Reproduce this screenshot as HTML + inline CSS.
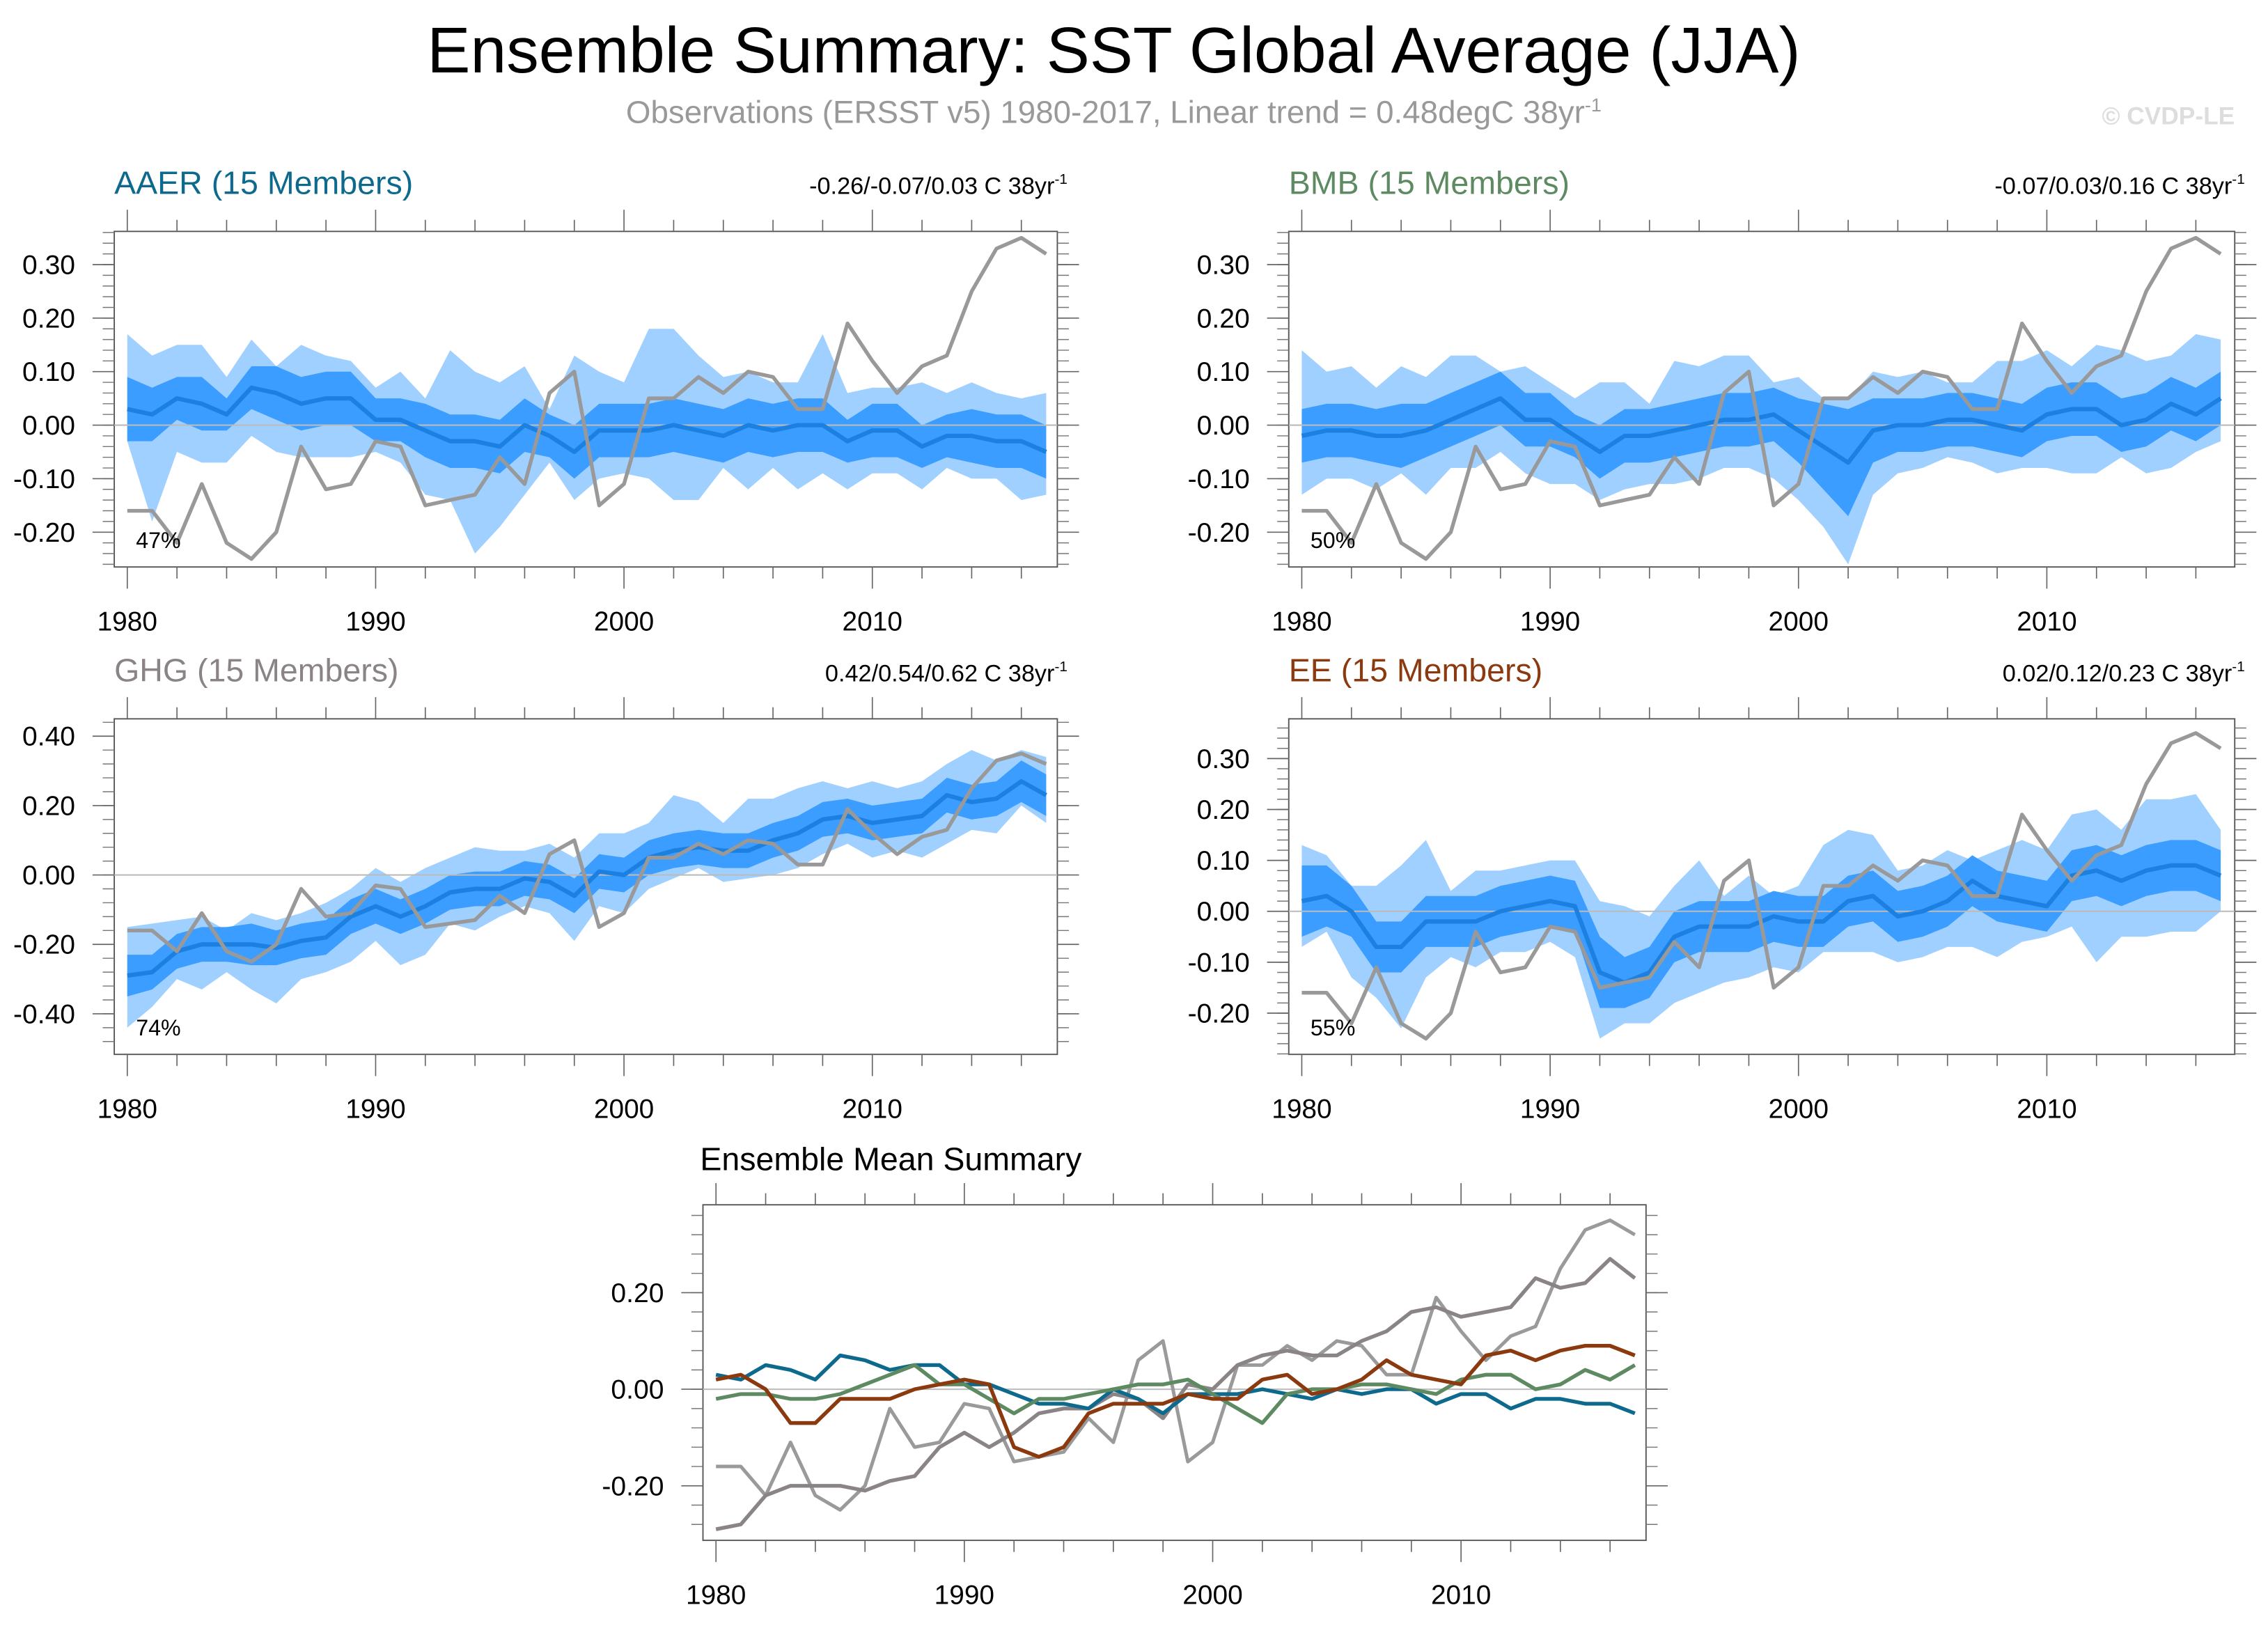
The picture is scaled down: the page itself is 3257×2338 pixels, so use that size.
<!DOCTYPE html>
<html><head><meta charset="utf-8"><style>
html,body{margin:0;padding:0;background:#fff}
svg{display:block}
text{font-family:"Liberation Sans",sans-serif}
</style></head><body>
<svg id="fig" width="3257" height="2338" viewBox="0 0 1568 1125.6" preserveAspectRatio="none" xmlns="http://www.w3.org/2000/svg">
<text x="770" y="50" font-size="44.8" text-anchor="middle">Ensemble Summary: SST Global Average (JJA)</text>
<text x="770" y="85" font-size="22" fill="#999" text-anchor="middle">Observations (ERSST v5) 1980-2017, Linear trend = 0.48degC 38yr<tspan font-size="13" dy="-8">-1</tspan></text>
<text x="1545" y="86" font-size="17" font-weight="bold" fill="#ddd" text-anchor="end">© CVDP-LE</text>
</svg>
<script>
const years = [];
for (let y = 1980; y <= 2017; y++) years.push(y);
const obs = [-0.16,-0.16,-0.22,-0.11,-0.22,-0.25,-0.20,-0.04,-0.12,-0.11,-0.03,-0.04,-0.15,-0.14,-0.13,-0.06,-0.11,0.06,0.10,-0.15,-0.11,0.05,0.05,0.09,0.06,0.10,0.09,0.03,0.03,0.19,0.12,0.06,0.11,0.13,0.25,0.33,0.35,0.32];
const aaerMean = [0.03,0.02,0.05,0.04,0.02,0.07,0.06,0.04,0.05,0.05,0.01,0.01,-0.01,-0.03,-0.03,-0.04,0.00,-0.02,-0.05,-0.01,-0.01,-0.01,0.00,-0.01,-0.02,0.00,-0.01,0.00,0.00,-0.03,-0.01,-0.01,-0.04,-0.02,-0.02,-0.03,-0.03,-0.05];
const aaerHi = [0.17,0.13,0.15,0.15,0.09,0.16,0.11,0.15,0.13,0.12,0.07,0.10,0.05,0.14,0.10,0.08,0.11,0.03,0.13,0.10,0.08,0.18,0.18,0.13,0.09,0.10,0.08,0.08,0.17,0.06,0.07,0.07,0.08,0.06,0.08,0.06,0.05,0.06];
const aaerLo = [-0.03,-0.18,-0.05,-0.07,-0.07,-0.02,-0.05,-0.06,-0.06,-0.06,-0.05,-0.07,-0.13,-0.14,-0.24,-0.19,-0.13,-0.07,-0.14,-0.10,-0.09,-0.10,-0.14,-0.14,-0.08,-0.12,-0.08,-0.12,-0.09,-0.12,-0.09,-0.09,-0.12,-0.08,-0.10,-0.10,-0.14,-0.13];
const aaerW = [0.06,0.05,0.04,0.05,0.03,0.04,0.05,0.05,0.05,0.05,0.04,0.04,0.05,0.05,0.05,0.05,0.05,0.04,0.05,0.05,0.05,0.05,0.05,0.05,0.05,0.05,0.05,0.05,0.05,0.04,0.05,0.05,0.04,0.04,0.05,0.05,0.05,0.05];
const bmbMean = [-0.02,-0.01,-0.01,-0.02,-0.02,-0.01,0.01,0.03,0.05,0.01,0.01,-0.02,-0.05,-0.02,-0.02,-0.01,0.00,0.01,0.01,0.02,-0.01,-0.04,-0.07,-0.01,0.00,0.00,0.01,0.01,0.00,-0.01,0.02,0.03,0.03,0.00,0.01,0.04,0.02,0.05];
const bmbHi = [0.14,0.10,0.11,0.07,0.11,0.09,0.13,0.13,0.10,0.11,0.08,0.05,0.08,0.08,0.04,0.12,0.11,0.13,0.13,0.08,0.09,0.05,0.05,0.10,0.09,0.10,0.08,0.08,0.12,0.12,0.14,0.11,0.15,0.14,0.12,0.13,0.17,0.16];
const bmbLo = [-0.13,-0.10,-0.10,-0.12,-0.09,-0.13,-0.08,-0.08,-0.05,-0.09,-0.11,-0.11,-0.14,-0.12,-0.11,-0.11,-0.10,-0.08,-0.08,-0.10,-0.14,-0.19,-0.26,-0.13,-0.09,-0.08,-0.06,-0.07,-0.09,-0.08,-0.08,-0.09,-0.09,-0.06,-0.09,-0.08,-0.05,-0.03];
const bmbW = [0.05,0.05,0.05,0.05,0.06,0.05,0.05,0.05,0.05,0.05,0.05,0.04,0.05,0.05,0.05,0.05,0.05,0.05,0.05,0.05,0.06,0.08,0.10,0.06,0.05,0.05,0.05,0.05,0.05,0.05,0.05,0.05,0.05,0.05,0.05,0.05,0.05,0.05];
const ghgMean = [-0.29,-0.28,-0.22,-0.20,-0.20,-0.20,-0.21,-0.19,-0.18,-0.12,-0.09,-0.12,-0.09,-0.05,-0.04,-0.04,-0.01,-0.02,-0.06,0.01,0.00,0.05,0.07,0.08,0.07,0.07,0.10,0.12,0.16,0.17,0.15,0.16,0.17,0.23,0.21,0.22,0.27,0.23];
const ghgHi = [-0.15,-0.14,-0.13,-0.12,-0.16,-0.11,-0.13,-0.11,-0.08,-0.04,0.02,-0.02,0.02,0.05,0.08,0.07,0.07,0.09,0.05,0.12,0.12,0.15,0.23,0.21,0.15,0.22,0.22,0.25,0.27,0.25,0.27,0.25,0.27,0.32,0.36,0.33,0.36,0.34];
const ghgLo = [-0.44,-0.38,-0.30,-0.33,-0.28,-0.33,-0.37,-0.30,-0.28,-0.25,-0.19,-0.26,-0.23,-0.14,-0.16,-0.12,-0.09,-0.11,-0.19,-0.09,-0.11,-0.04,-0.01,0.02,-0.02,-0.01,0.00,0.02,0.06,0.09,0.05,0.07,0.05,0.09,0.13,0.12,0.20,0.15];
const ghgW = [0.06,0.05,0.05,0.05,0.05,0.06,0.05,0.05,0.05,0.05,0.05,0.05,0.05,0.05,0.05,0.05,0.05,0.05,0.05,0.05,0.05,0.05,0.05,0.05,0.05,0.05,0.05,0.05,0.05,0.05,0.05,0.05,0.05,0.05,0.05,0.05,0.06,0.06];
const eeMean = [0.02,0.03,0.00,-0.07,-0.07,-0.02,-0.02,-0.02,0.00,0.01,0.02,0.01,-0.12,-0.14,-0.12,-0.05,-0.03,-0.03,-0.03,-0.01,-0.02,-0.02,0.02,0.03,-0.01,0.00,0.02,0.06,0.03,0.02,0.01,0.07,0.08,0.06,0.08,0.09,0.09,0.07];
const eeHi = [0.13,0.11,0.05,0.05,0.09,0.14,0.04,0.08,0.08,0.09,0.10,0.10,0.02,0.01,-0.01,0.05,0.10,0.03,0.07,0.03,0.05,0.13,0.16,0.15,0.08,0.09,0.12,0.10,0.12,0.14,0.12,0.19,0.20,0.16,0.22,0.22,0.23,0.16];
const eeLo = [-0.07,-0.04,-0.13,-0.17,-0.23,-0.13,-0.09,-0.11,-0.08,-0.08,-0.06,-0.09,-0.25,-0.22,-0.22,-0.18,-0.16,-0.14,-0.13,-0.11,-0.12,-0.08,-0.08,-0.08,-0.10,-0.09,-0.07,-0.07,-0.09,-0.06,-0.05,-0.03,-0.10,-0.05,-0.05,-0.04,-0.04,0.00];
const eeW = [0.07,0.06,0.05,0.05,0.05,0.05,0.05,0.05,0.05,0.05,0.05,0.05,0.07,0.05,0.05,0.05,0.05,0.05,0.05,0.05,0.05,0.05,0.05,0.05,0.05,0.05,0.05,0.05,0.05,0.05,0.05,0.05,0.05,0.05,0.05,0.05,0.05,0.05];
const xTicks = [1980, 1990, 2000, 2010];
const ticksA = [0.30,0.20,0.10,0.00,-0.10,-0.20];
const ticksG = [0.40,0.20,0.00,-0.20,-0.40];
const ticksE = [0.30,0.20,0.10,0.00,-0.10,-0.20];
const ticksS = [0.20,0.00,-0.20];
const pctA = '47%', pctB = '50%', pctG = '74%', pctE = '55%';

const svg = document.getElementById('fig');
const NS = 'http://www.w3.org/2000/svg';
function mk(tag, attrs, parent) {
  const e = document.createElementNS(NS, tag);
  for (const k in attrs) e.setAttribute(k, attrs[k]);
  (parent || svg).appendChild(e);
  return e;
}
function scales(box) {
  const pxYr = 17.17;
  const x0 = box.x + 9;
  const sx = v => x0 + (v - 1980) * pxYr;
  const sy = v => box.y + (box.ymax - v) / (box.ymax - box.ymin) * box.h;
  return {sx, sy};
}
function axes(g, box, ticks, minorStep, sc) {
  const {sx, sy} = sc;
  const r = mk('rect', {x: box.x, y: box.y, width: box.w, height: box.h, fill: 'none', stroke: '#555', 'stroke-width': 0.9}, g);
  
  
  const z = mk('line', {x1: box.x, x2: box.x + box.w, y1: sy(0), y2: sy(0), stroke: '#bbb', 'stroke-width': 1}, g);
  
  
  for (let yr = 1980; yr <= 2017; yr += 2) {
    const major = yr % 10 === 0;
    const L = major ? 15 : 8;
    const X = sx(yr);
    mk('line', {x1: X, x2: X, y1: box.y + box.h, y2: box.y + box.h + L, stroke: '#666', 'stroke-width': 0.8}, g);
    mk('line', {x1: X, x2: X, y1: box.y, y2: box.y - L, stroke: '#666', 'stroke-width': 0.8}, g);
  }
  xTicks.forEach(yr => {
    const t = mk('text', {x: sx(yr), y: box.y + box.h + 44, 'font-size': 18.7, 'text-anchor': 'middle'}, g);
    
    
    t.textContent = yr;
  });
  const start = Math.ceil(box.ymin / minorStep - 1e-6);
  const end = Math.floor(box.ymax / minorStep + 1e-6);
  for (let i = start; i <= end; i++) {
    const Y = sy(i * minorStep);
    mk('line', {x1: box.x, x2: box.x - 8, y1: Y, y2: Y, stroke: '#777', 'stroke-width': 0.7}, g);
    mk('line', {x1: box.x + box.w, x2: box.x + box.w + 8, y1: Y, y2: Y, stroke: '#777', 'stroke-width': 0.7}, g);
  }
  ticks.forEach(v => {
    const Y = sy(v);
    mk('line', {x1: box.x, x2: box.x - 15, y1: Y, y2: Y, stroke: '#666', 'stroke-width': 0.8}, g);
    mk('line', {x1: box.x + box.w, x2: box.x + box.w + 15, y1: Y, y2: Y, stroke: '#666', 'stroke-width': 0.8}, g);
    const t = mk('text', {x: box.x - 27, y: Y + 6.5, 'font-size': 18.8, 'text-anchor': 'end'}, g);
    
    
    t.textContent = v.toFixed(2);
  });
}
function linePts(arr, sc) { return arr.map((v, i) => sc.sx(years[i]).toFixed(2) + ',' + sc.sy(v).toFixed(2)).join(' '); }
function bandPts(lo, hi, sc) {
  const a = hi.map((v, i) => sc.sx(years[i]).toFixed(2) + ',' + sc.sy(v).toFixed(2));
  const b = lo.map((v, i) => sc.sx(years[i]).toFixed(2) + ',' + sc.sy(v).toFixed(2)).reverse();
  return a.concat(b).join(' ');
}
function panel(name, title, color, stats, box, ticks, minor, mean, lo, hi, w, pct) {
  const g = mk('g', {});
  
  
  const sc = scales(box);
  const outer = mk('polygon', {points: bandPts(lo, hi, sc), fill: '#a0d0ff'}, g);
  
  
  const innerLo = mean.map((v, i) => v - w[i]);
  const innerHi = mean.map((v, i) => v + w[i]);
  const inner = mk('polygon', {points: bandPts(innerLo, innerHi, sc), fill: '#3a9dff'}, g);
  
  
  axes(g, box, ticks, minor, sc);
  const m = mk('polyline', {points: linePts(mean, sc), fill: 'none', stroke: '#1c80e0', 'stroke-width': 3, 'stroke-linejoin': 'round'}, g);
  
  
  const o = mk('polyline', {points: linePts(obs, sc), fill: 'none', stroke: '#999', 'stroke-width': 2.6, 'stroke-linejoin': 'round'}, g);
  
  
  const t = mk('text', {x: box.x, y: box.y - 26, 'font-size': 22.4, fill: color}, g);
  
  
  t.textContent = title;
  const s = mk('text', {x: box.x + box.w + 7, y: box.y - 26, 'font-size': 16.5, 'text-anchor': 'end'}, g);
  
  
  s.textContent = stats;
  const sp = mk('tspan', {'font-size': 10, dy: -7}, s);
  sp.textContent = '-1';
  const p = mk('text', {x: box.x + 15, y: box.y + box.h - 13, 'font-size': 15.5}, g);
  
  
  p.textContent = pct;
}
const bA = {x: 79, y: 160, w: 652, h: 232, ymax: 0.362, ymin: -0.265};
const bB = {x: 891, y: 160, w: 654, h: 232, ymax: 0.362, ymin: -0.265};
const bG = {x: 79, y: 497, w: 652, h: 232, ymax: 0.45, ymin: -0.517};
const bE = {x: 891, y: 497, w: 654, h: 232, ymax: 0.378, ymin: -0.281};
const bS = {x: 486, y: 833, w: 652, h: 232, ymax: 0.382, ymin: -0.313};
panel('aaer', 'AAER (15 Members)', '#0e6a8c', '-0.26/-0.07/0.03 C 38yr', bA, ticksA, 0.02, aaerMean, aaerLo, aaerHi, aaerW, pctA);
panel('bmb', 'BMB (15 Members)', '#5e8a62', '-0.07/0.03/0.16 C 38yr', bB, ticksA, 0.02, bmbMean, bmbLo, bmbHi, bmbW, pctB);
panel('ghg', 'GHG (15 Members)', '#8a8486', '0.42/0.54/0.62 C 38yr', bG, ticksG, 0.04, ghgMean, ghgLo, ghgHi, ghgW, pctG);
panel('ee', 'EE (15 Members)', '#8b3a0f', '0.02/0.12/0.23 C 38yr', bE, ticksE, 0.02, eeMean, eeLo, eeHi, eeW, pctE);
const gS = mk('g', {});


const scS = scales(bS);
axes(gS, bS, ticksS, 0.04, scS);
const st = mk('text', {x: 484, y: 809, 'font-size': 22.4}, gS);


st.textContent = 'Ensemble Mean Summary';
const series = [['obs', obs, '#9a9a9a', 2.4], ['ghg', ghgMean, '#8a8486', 2.6], ['aaer', aaerMean, '#0e6a8c', 2.6], ['bmb', bmbMean, '#5e8a62', 2.6], ['ee', eeMean, '#8b3a0f', 2.6]];
series.forEach(s => {
  const l = mk('polyline', {points: linePts(s[1], scS), fill: 'none', stroke: s[2], 'stroke-width': s[3], 'stroke-linejoin': 'round'}, gS);
  
  
});
</script>
</body></html>
